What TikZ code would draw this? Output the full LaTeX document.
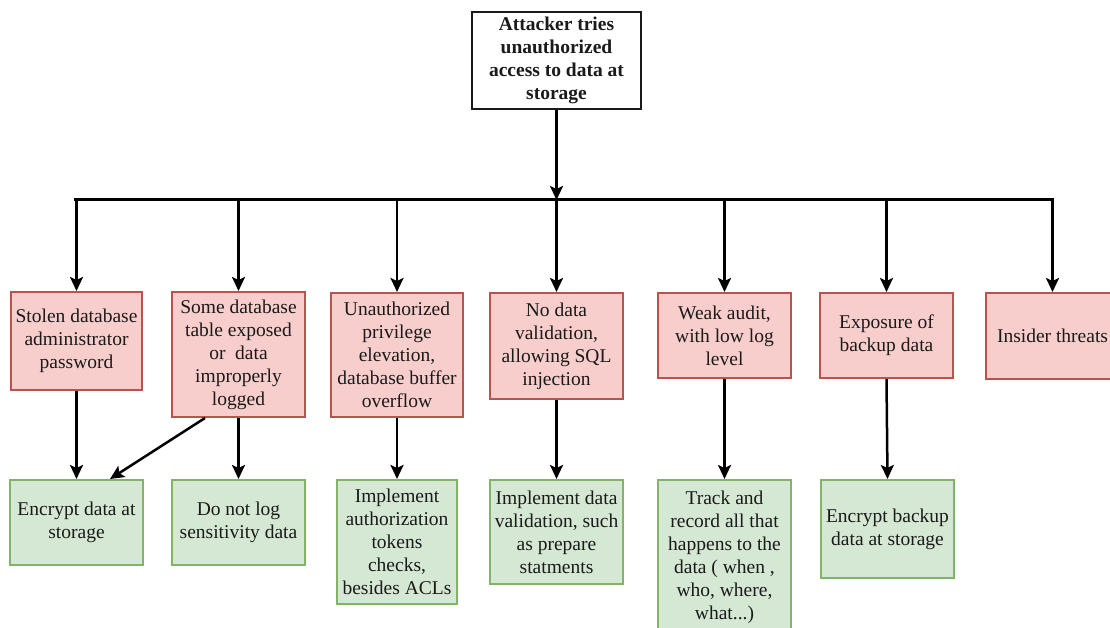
\documentclass[tikz,border=0pt]{standalone}
\usepackage{fontspec}
\setmainfont{Liberation Serif}
\usetikzlibrary{arrows.meta,calc}
\definecolor{riskfill}{HTML}{F8CECC}
\definecolor{riskline}{HTML}{B85450}
\definecolor{fixfill}{HTML}{D5E8D4}
\definecolor{fixline}{HTML}{82B366}
\definecolor{ink}{HTML}{1A1A1A}

\begin{document}
\begin{tikzpicture}[x=1pt,y=-1pt,
  box/.style={draw, line width=2pt, inner sep=0pt, align=center,
    font=\fontsize{19.5}{23}\selectfont, text=ink},
  sized/.style 2 args={minimum width=#1pt, minimum height=#2pt},
  risk/.style={box, draw=riskline, fill=riskfill},
  fix/.style={box, draw=fixline, fill=fixfill},
  goal/.style={box, draw=ink, fill=white,
    font=\fontsize{19.5}{23}\selectfont\bfseries},
  link/.style={line width=2.5pt, draw=black,
    -{Stealth[length=14pt,width=13pt,inset=3pt]}},
  bus/.style={line width=3pt, line cap=rect}
]
\useasboundingbox (0,0) rectangle (1110,628);
\fill[white] (0,0) rectangle (1110,628);
\clip (0,0) rectangle (1110,628);

% root goal
\node[goal, sized={169}{97}] (top) at (556.5,60.5)
  {Attacker tries\\unauthorized\\access to data at\\storage};

% threats
\node[risk, sized={131}{98}]  (r1) at (76.5,341)  {Stolen database\\administrator\\password};
\node[risk, sized={133}{125}] (r2) at (238.5,354.5) {Some database\\table exposed\\or~ data\\improperly\\logged};
\node[risk, sized={132}{124}] (r3) at (397,355)   {Unauthorized\\privilege\\elevation,\\database buffer\\overflow};
\node[risk, sized={133}{106}] (r4) at (556.5,346) {No data\\validation,\\allowing SQL\\injection};
\node[risk, sized={133}{85}]  (r5) at (724.5,335.5) {Weak audit,\\with low log\\level};
\node[risk, sized={133}{85}]  (r6) at (886.5,335.5) {Exposure of\\backup data};
\node[risk, sized={133}{86}]  (r7) at (1052.5,336) {Insider threats};

% countermeasures
\node[fix, sized={133}{85}]  (g1) at (76.5,522.5)  {Encrypt data at\\storage};
\node[fix, sized={133}{85}]  (g2) at (238.5,522.5) {Do not log\\sensitivity data};
\node[fix, sized={120}{124}] (g3) at (397,542)     {Implement\\authorization\\tokens\\checks,\\besides ACLs};
\node[fix, sized={133}{104}] (g4) at (556.5,532)   {Implement data\\validation, such\\as prepare\\statments};
\node[fix, sized={133}{154}] (g5) at (724.5,557)   {Track and\\record all that\\happens to the\\data ( when ,\\who, where,\\what...)};
\node[fix, sized={133}{98}]  (g6) at (887.5,529)   {Encrypt backup\\data at storage};

% distribution bar
\coordinate (busL) at (75,200);
\coordinate (busR) at (1052,200);
\draw[bus] (busL) -- (busR);
\draw[link] (top.south) -- (top.south |- busL);
\foreach \n in {r1,r2,r3,r4,r5,r6,r7}
  \draw[link] (\n.north |- busL) -- (\n.north);

% threat -> countermeasure
\draw[link] (r1.south) -- (g1.north);
\draw[link] (r2.south) -- (g2.north);
\draw[link] ($(r2.south)+(-33.5,0)$) -- ($(g1.north)+(33.5,0)$);
\draw[link] (r3.south) -- (g3.north);
\draw[link] (r4.south) -- (g4.north);
\draw[link] (r5.south) -- (g5.north);
\draw[link] (r6.south) -- (g6.north);
\end{tikzpicture}
\end{document}
